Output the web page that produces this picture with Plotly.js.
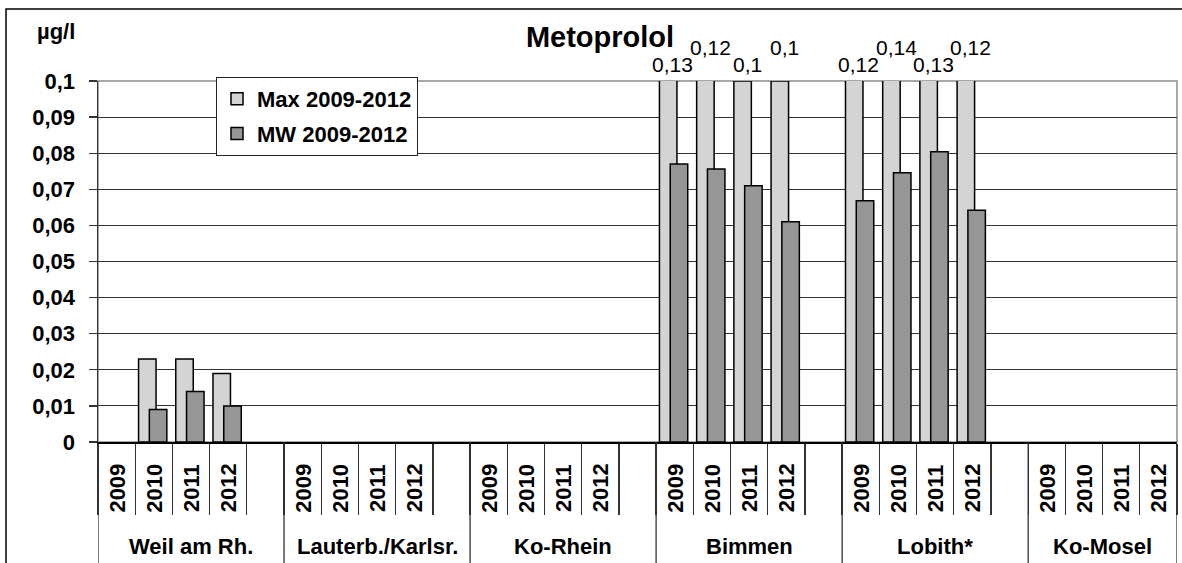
<!DOCTYPE html>
<html>
<head>
<meta charset="utf-8">
<script src="https://cdn.plot.ly/plotly-3.0.1.min.js"></script>
<style>html,body{margin:0;padding:0;background:#fff;}#chart{width:1182px;height:563px;}</style>
</head>
<body>
<div id="chart"></div>
<script>
// ---- data ----
const groups = ["Weil am Rh.", "Lauterb./Karlsr.", "Ko-Rhein", "Bimmen", "Lobith*", "Ko-Mosel"];
const years = ["2009", "2010", "2011", "2012"];
const maxWeil    = [null, 0.023, 0.023, 0.019];
const maxLauterb = [null, null, null, null];
const maxKoRhein = [null, null, null, null];
const maxBimmen  = [0.13, 0.12, 0.10, 0.10];
const maxLobith  = [0.12, 0.14, 0.13, 0.12];
const maxKoMosel = [null, null, null, null];
const mwWeil    = [null, 0.009, 0.014, 0.010];
const mwLauterb = [null, null, null, null];
const mwKoRhein = [null, null, null, null];
const mwBimmen  = [0.077, 0.0756, 0.071, 0.061];
const mwLobith  = [0.0668, 0.0746, 0.0804, 0.0642];
const mwKoMosel = [null, null, null, null];
const seriesNames = ["Max 2009-2012", "MW 2009-2012"];
const yTicks = [0, 0.01, 0.02, 0.03, 0.04, 0.05, 0.06, 0.07, 0.08, 0.09, 0.1];
const unitLabel = "µg/l";
const chartTitle = "Metoprolol";

// ---- build ----
const maxAll = [maxWeil, maxLauterb, maxKoRhein, maxBimmen, maxLobith, maxKoMosel];
const mwAll = [mwWeil, mwLauterb, mwKoRhein, mwBimmen, mwLobith, mwKoMosel];
const slotsPerGroup = years.length + 1;
const nSlots = groups.length * slotsPerGroup - 1; // last group has no trailing gap
const yMax = 0.1;
const fmt = v => String(+v.toFixed(4)).replace('.', ',');

const xs = [], maxY = [], mwY = [];
groups.forEach((g, gi) => {
  years.forEach((yr, yi) => {
    xs.push(gi * slotsPerGroup + yi + 0.5);
    maxY.push(maxAll[gi][yi]);
    mwY.push(mwAll[gi][yi]);
  });
});

const font = "Liberation Sans, Arial, sans-serif";
const bw = 0.47;
const traces = [
  {type: 'bar', name: seriesNames[0], x: xs, y: maxY, width: bw, offset: -0.41,
   marker: {color: '#D4D4D6', line: {color: '#000', width: 1.5}}, legendgroup: 'a', hoverinfo: 'x+y'},
  {type: 'bar', name: seriesNames[1], x: xs, y: mwY, width: bw, offset: -0.12,
   marker: {color: '#969696', line: {color: '#000', width: 1.5}}, legendgroup: 'b', hoverinfo: 'x+y'}
];

const H = 563, mT = 81, mB = 121, plotH = H - mT - mB;
const pY = px => (H - mB - px) / plotH; // pixel row -> paper y
const bold = {family: font, size: 22, weight: 'bold', color: '#000'};
const annotations = [];
// year labels
groups.forEach((g, gi) => {
  years.forEach((yr, yi) => {
    annotations.push({x: gi * slotsPerGroup + yi + 0.5, xref: 'x', y: pY(488), yref: 'paper',
      text: yr, textangle: -90, showarrow: false, xanchor: 'center', yanchor: 'middle', font: bold});
  });
  const x0 = gi * slotsPerGroup, x1 = Math.min(x0 + slotsPerGroup, nSlots);
  annotations.push({x: (x0 + x1) / 2, xref: 'x', y: pY(546), yref: 'paper', text: g,
    showarrow: false, xanchor: 'center', yanchor: 'middle', font: bold});
});
// value labels for clipped max bars
xs.forEach((x, i) => {
  const v = maxY[i];
  if (v != null && v >= yMax) {
    const yi = i % years.length;
    annotations.push({x: x - 0.05, xref: 'x', y: pY(yi % 2 === 0 ? 64 : 47), yref: 'paper',
      text: fmt(v), showarrow: false, xanchor: 'center', yanchor: 'middle',
      font: {family: font, size: 21, color: '#000'}});
  }
});
annotations.push({x: (56 - 98) / 1079, xref: 'paper', y: pY(32), yref: 'paper',
  text: unitLabel, showarrow: false, xanchor: 'center', yanchor: 'middle', font: bold});

const shapes = [];
// group boundaries extending to bottom
for (let gi = 0; gi <= groups.length; gi++) {
  const x = Math.min(gi * slotsPerGroup, nSlots);
  shapes.push({type: 'line', xref: 'x', yref: 'paper', x0: x, x1: x, y0: 0, y1: pY(566),
    line: {color: '#333', width: 1.3}});
}
// plot area border (top/right), gray
shapes.push({type: 'rect', xref: 'paper', yref: 'paper', x0: 0, x1: 1, y0: 0, y1: 1,
  line: {color: '#8c8c8c', width: 1.5}, layer: 'between'});
// chart outer border
shapes.push({type: 'rect', xref: 'paper', yref: 'paper', x0: (6 - 98) / 1079, x1: 1.2,
  y0: -0.6, y1: pY(9), line: {color: '#000', width: 1.5}, layer: 'below'});

const layout = {
  width: 1182, height: 563,
  margin: {l: 98, r: 5, t: mT, b: mB, pad: 0},
  paper_bgcolor: '#fff', plot_bgcolor: '#fff',
  separators: ',.',
  barmode: 'overlay',
  showlegend: true,
  title: {text: chartTitle, font: {family: font, size: 29, weight: 'bold', color: '#000'},
    xref: 'paper', x: (600 - 98) / 1079, xanchor: 'center', yref: 'container', y: 1 - 37 / 563, yanchor: 'middle'},
  xaxis: {type: 'linear', range: [0, nSlots], tickvals: Array.from({length: nSlots + 1}, (_, i) => i),
    ticks: 'outside', ticklen: 71, tickcolor: '#333', tickwidth: 1.3, showticklabels: false,
    showgrid: false, zeroline: false, showline: true, linecolor: '#000', linewidth: 1.5, fixedrange: true},
  yaxis: {range: [0, yMax], tickvals: yTicks, ticktext: yTicks.map(fmt),
    ticks: 'outside', ticklen: 8, tickcolor: '#333', tickwidth: 1.3, ticklabelstandoff: 9,
    tickfont: bold,
    showgrid: true, gridcolor: '#333', gridwidth: 1, zeroline: false,
    showline: true, linecolor: '#333', linewidth: 1.5, fixedrange: true},
  legend: {x: (216 - 98) / 1079, xanchor: 'left', y: pY(77), yanchor: 'top',
    bgcolor: '#fff', bordercolor: '#222', borderwidth: 1,
    font: bold, traceorder: 'grouped', tracegroupgap: 3},
  annotations: annotations,
  shapes: shapes
};

Plotly.newPlot('chart', traces, layout, {displayModeBar: false, staticPlot: true});
</script>
</body>
</html>
